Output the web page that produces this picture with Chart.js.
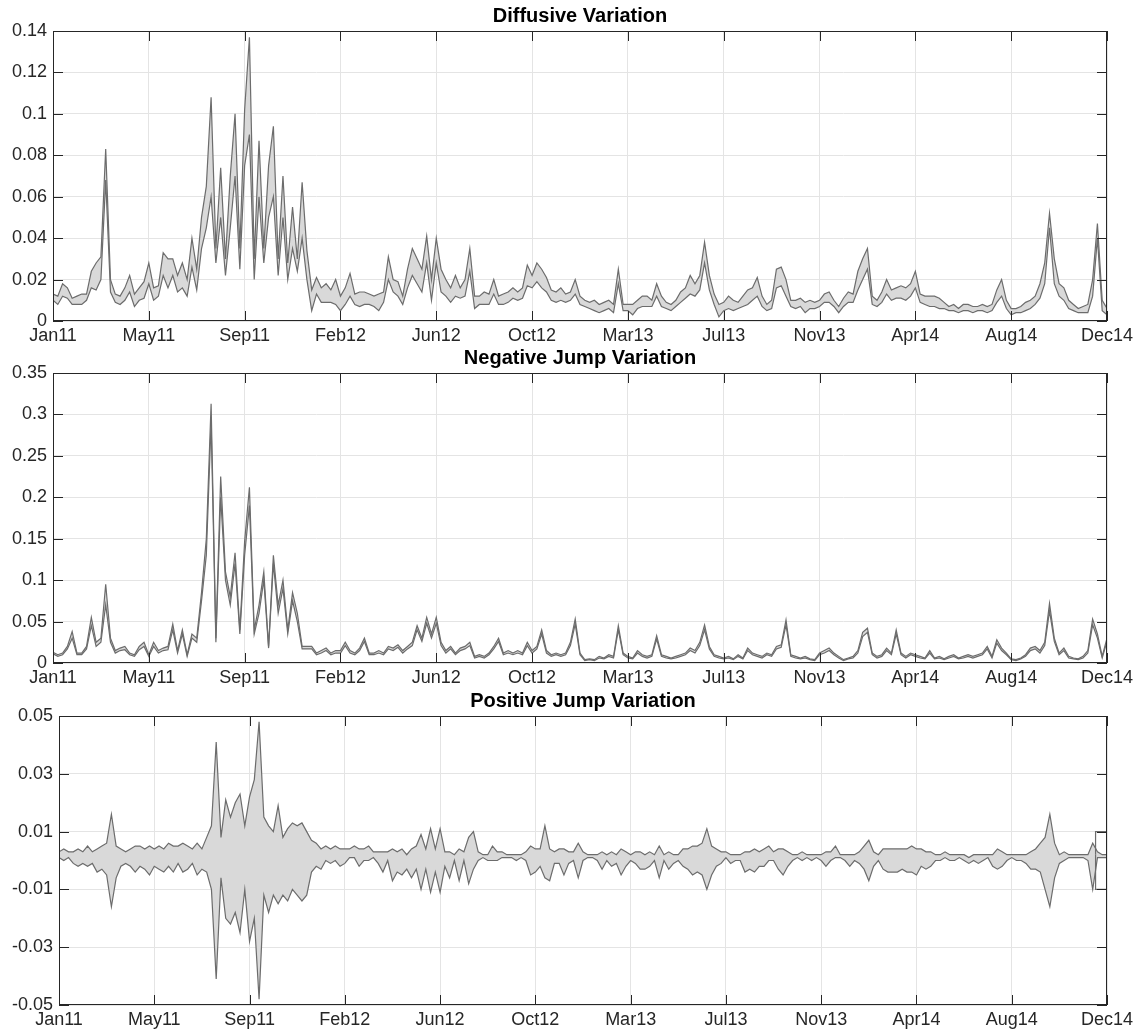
<!DOCTYPE html>
<html><head><meta charset="utf-8">
<script src="https://cdn.jsdelivr.net/npm/chart.js@4.4.1/dist/chart.umd.min.js"></script>
<style>
html,body{margin:0;padding:0;background:#fff;}
#wrap{position:relative;width:1138px;height:1032px;overflow:hidden;}
.pn{position:absolute;left:0;width:1138px;}
canvas{display:block;}
</style></head><body>
<div id="wrap">
<div class="pn" style="top:0;height:345px"><canvas id="c1" width="1138" height="345"></canvas></div>
<div class="pn" style="top:345px;height:345px"><canvas id="c2" width="1138" height="345"></canvas></div>
<div class="pn" style="top:690px;height:342px"><canvas id="c3" width="1138" height="342"></canvas></div>
</div>
<script>
// ---------- data ----------
const STEP = 5; // sample spacing on the trading-day index axis (0..1100)
const xTickPos = [0,100,200,300,400,500,600,700,800,900,1000,1100];
const xTickLabels = ['Jan11','May11','Sep11','Feb12','Jun12','Oct12','Mar13','Jul13','Nov13','Apr14','Aug14','Dec14'];

const titles = ['Diffusive Variation','Negative Jump Variation','Positive Jump Variation'];

const yTicks1 = [0,0.02,0.04,0.06,0.08,0.1,0.12,0.14];
const yLabels1 = ['0','0.02','0.04','0.06','0.08','0.1','0.12','0.14'];
const yTicks2 = [0,0.05,0.1,0.15,0.2,0.25,0.3,0.35];
const yLabels2 = ['0','0.05','0.1','0.15','0.2','0.25','0.3','0.35'];
const yTicks3 = [-0.05,-0.03,-0.01,0.01,0.03,0.05];
const yLabels3 = ['-0.05','-0.03','-0.01','0.01','0.03','0.05'];

// Diffusive variation: upper / lower envelope
const diffUpper = [
0.013,0.012,0.018,0.016,0.011,0.012,0.013,0.013,0.024,0.028,
0.031,0.083,0.02,0.013,0.012,0.016,0.022,0.013,0.016,0.019,
0.028,0.016,0.017,0.033,0.03,0.03,0.022,0.028,0.02,0.04,
0.025,0.05,0.065,0.108,0.035,0.074,0.03,0.07,0.1,0.035,
0.102,0.137,0.03,0.087,0.035,0.075,0.094,0.03,0.07,0.028,
0.055,0.03,0.067,0.034,0.015,0.021,0.016,0.018,0.015,0.02,
0.012,0.016,0.023,0.013,0.014,0.014,0.013,0.012,0.013,0.014,
0.031,0.02,0.019,0.012,0.025,0.035,0.03,0.025,0.041,0.02,
0.04,0.025,0.02,0.016,0.022,0.016,0.02,0.035,0.012,0.012,
0.014,0.013,0.02,0.012,0.013,0.014,0.016,0.014,0.016,0.027,
0.022,0.028,0.025,0.021,0.015,0.014,0.016,0.013,0.014,0.02,
0.012,0.01,0.009,0.01,0.008,0.009,0.01,0.008,0.025,0.008,
0.008,0.008,0.01,0.012,0.012,0.01,0.018,0.012,0.009,0.008,
0.01,0.014,0.016,0.022,0.018,0.022,0.038,0.022,0.013,0.008,
0.009,0.012,0.01,0.009,0.012,0.015,0.016,0.021,0.012,0.008,
0.01,0.025,0.026,0.02,0.01,0.01,0.011,0.009,0.01,0.009,
0.01,0.013,0.014,0.01,0.007,0.011,0.014,0.013,0.024,0.03,
0.035,0.012,0.01,0.014,0.02,0.015,0.016,0.017,0.016,0.018,
0.024,0.013,0.012,0.012,0.012,0.011,0.009,0.007,0.008,0.006,
0.008,0.008,0.007,0.007,0.008,0.007,0.008,0.015,0.02,0.01,
0.006,0.006,0.007,0.009,0.01,0.012,0.018,0.028,0.052,0.03,
0.018,0.016,0.01,0.008,0.006,0.007,0.008,0.02,0.047,0.01,
0.006];
const diffLower = [
0.01,0.008,0.012,0.011,0.008,0.008,0.008,0.01,0.016,0.015,
0.02,0.068,0.014,0.009,0.008,0.01,0.014,0.007,0.01,0.011,
0.018,0.01,0.012,0.022,0.016,0.022,0.014,0.016,0.012,0.026,
0.015,0.035,0.045,0.06,0.028,0.05,0.022,0.045,0.07,0.025,
0.075,0.09,0.02,0.06,0.028,0.05,0.06,0.022,0.05,0.02,
0.035,0.024,0.04,0.02,0.005,0.013,0.009,0.009,0.009,0.008,
0.005,0.008,0.012,0.008,0.007,0.008,0.008,0.007,0.005,0.009,
0.02,0.014,0.012,0.008,0.016,0.022,0.018,0.014,0.028,0.01,
0.028,0.014,0.012,0.009,0.012,0.011,0.012,0.024,0.006,0.008,
0.008,0.008,0.013,0.008,0.008,0.009,0.011,0.01,0.011,0.017,
0.016,0.019,0.016,0.014,0.01,0.009,0.01,0.009,0.01,0.013,
0.008,0.007,0.006,0.005,0.004,0.005,0.006,0.004,0.018,0.005,
0.005,0.003,0.006,0.007,0.007,0.007,0.012,0.007,0.006,0.005,
0.007,0.009,0.011,0.013,0.012,0.015,0.028,0.015,0.008,0.002,
0.005,0.006,0.005,0.006,0.007,0.008,0.01,0.012,0.007,0.005,
0.006,0.016,0.017,0.012,0.007,0.006,0.007,0.004,0.006,0.006,
0.007,0.009,0.009,0.007,0.004,0.007,0.009,0.009,0.015,0.02,
0.025,0.008,0.007,0.009,0.013,0.01,0.011,0.011,0.01,0.012,
0.016,0.009,0.008,0.007,0.007,0.006,0.006,0.005,0.005,0.004,
0.005,0.005,0.004,0.005,0.005,0.004,0.005,0.009,0.012,0.006,
0.003,0.004,0.004,0.005,0.006,0.008,0.011,0.018,0.045,0.018,
0.012,0.01,0.006,0.005,0.004,0.004,0.004,0.012,0.04,0.005,
0.003];

// Negative jump variation: upper / lower envelope
const negUpper = [
0.013,0.01,0.012,0.02,0.038,0.012,0.012,0.02,0.055,0.025,
0.03,0.095,0.03,0.015,0.018,0.02,0.012,0.01,0.02,0.025,
0.01,0.025,0.015,0.018,0.02,0.047,0.015,0.04,0.01,0.035,
0.03,0.085,0.15,0.313,0.03,0.225,0.11,0.08,0.133,0.04,
0.147,0.212,0.04,0.07,0.11,0.02,0.13,0.07,0.1,0.04,
0.085,0.06,0.02,0.02,0.02,0.012,0.015,0.018,0.012,0.015,
0.015,0.025,0.015,0.012,0.018,0.03,0.012,0.012,0.015,0.012,
0.02,0.018,0.022,0.015,0.02,0.025,0.045,0.03,0.055,0.035,
0.055,0.025,0.015,0.02,0.012,0.018,0.02,0.025,0.008,0.01,
0.008,0.012,0.02,0.03,0.012,0.015,0.012,0.015,0.012,0.025,
0.015,0.02,0.04,0.015,0.01,0.012,0.01,0.012,0.025,0.053,
0.012,0.004,0.005,0.004,0.008,0.006,0.01,0.008,0.045,0.012,
0.008,0.006,0.015,0.01,0.008,0.01,0.033,0.01,0.008,0.006,
0.008,0.01,0.012,0.018,0.015,0.025,0.046,0.02,0.01,0.008,
0.006,0.008,0.005,0.01,0.006,0.018,0.012,0.01,0.008,0.012,
0.01,0.02,0.022,0.052,0.01,0.008,0.006,0.008,0.005,0.004,
0.012,0.015,0.018,0.012,0.008,0.004,0.006,0.008,0.015,0.037,
0.042,0.012,0.008,0.01,0.018,0.012,0.04,0.012,0.008,0.012,
0.01,0.008,0.006,0.015,0.006,0.008,0.005,0.008,0.01,0.006,
0.008,0.01,0.008,0.01,0.012,0.02,0.008,0.028,0.018,0.012,
0.005,0.004,0.006,0.01,0.018,0.02,0.015,0.025,0.072,0.03,
0.012,0.018,0.008,0.006,0.005,0.008,0.015,0.053,0.035,0.008,
0.03];
const negLower = [
0.011,0.008,0.01,0.017,0.03,0.01,0.01,0.017,0.045,0.02,
0.025,0.07,0.025,0.012,0.015,0.016,0.01,0.008,0.016,0.02,
0.008,0.02,0.012,0.015,0.016,0.04,0.012,0.035,0.008,0.03,
0.025,0.075,0.13,0.29,0.025,0.2,0.1,0.07,0.12,0.035,
0.13,0.19,0.035,0.06,0.1,0.018,0.12,0.06,0.09,0.035,
0.075,0.05,0.017,0.017,0.017,0.01,0.012,0.015,0.01,0.012,
0.012,0.021,0.012,0.01,0.015,0.026,0.01,0.01,0.012,0.01,
0.017,0.015,0.019,0.012,0.017,0.021,0.04,0.026,0.048,0.03,
0.048,0.021,0.012,0.017,0.01,0.015,0.017,0.021,0.006,0.008,
0.006,0.01,0.017,0.026,0.01,0.012,0.01,0.012,0.01,0.021,
0.012,0.017,0.035,0.012,0.008,0.01,0.008,0.01,0.021,0.047,
0.01,0.003,0.004,0.003,0.006,0.005,0.008,0.006,0.04,0.01,
0.006,0.005,0.012,0.008,0.006,0.008,0.029,0.008,0.006,0.005,
0.006,0.008,0.01,0.015,0.012,0.021,0.04,0.017,0.008,0.006,
0.005,0.006,0.004,0.008,0.005,0.015,0.01,0.008,0.006,0.01,
0.008,0.017,0.019,0.046,0.008,0.006,0.005,0.006,0.004,0.003,
0.01,0.012,0.015,0.01,0.006,0.003,0.005,0.006,0.012,0.032,
0.037,0.01,0.006,0.008,0.015,0.01,0.035,0.01,0.006,0.01,
0.008,0.006,0.005,0.012,0.005,0.006,0.004,0.006,0.008,0.005,
0.006,0.008,0.006,0.008,0.01,0.017,0.006,0.024,0.015,0.01,
0.004,0.003,0.005,0.008,0.015,0.017,0.012,0.021,0.063,0.026,
0.01,0.015,0.006,0.005,0.004,0.006,0.012,0.046,0.03,0.006,
0.026];

// Positive jump variation: upper / lower envelope
const posUpper = [
0.003,0.004,0.003,0.003,0.004,0.003,0.005,0.003,0.004,0.005,
0.006,0.016,0.005,0.004,0.003,0.004,0.005,0.005,0.004,0.005,
0.004,0.005,0.004,0.006,0.005,0.005,0.006,0.005,0.004,0.006,
0.004,0.008,0.012,0.041,0.008,0.021,0.015,0.02,0.023,0.012,
0.022,0.028,0.048,0.015,0.012,0.01,0.019,0.008,0.011,0.013,
0.012,0.013,0.01,0.007,0.006,0.004,0.005,0.004,0.005,0.004,
0.004,0.004,0.005,0.004,0.004,0.005,0.003,0.003,0.003,0.003,
0.004,0.003,0.004,0.002,0.004,0.005,0.009,0.004,0.011,0.004,
0.011,0.003,0.003,0.002,0.004,0.003,0.008,0.01,0.003,0.002,
0.002,0.005,0.003,0.003,0.002,0.002,0.002,0.002,0.003,0.005,
0.004,0.004,0.012,0.004,0.003,0.004,0.004,0.003,0.003,0.006,
0.003,0.002,0.002,0.002,0.003,0.002,0.003,0.002,0.004,0.003,
0.002,0.003,0.003,0.002,0.003,0.002,0.005,0.002,0.003,0.002,
0.002,0.004,0.004,0.005,0.005,0.006,0.011,0.005,0.004,0.003,
0.003,0.002,0.002,0.002,0.003,0.003,0.004,0.003,0.004,0.005,
0.003,0.004,0.004,0.003,0.002,0.002,0.003,0.002,0.002,0.002,
0.002,0.003,0.003,0.005,0.002,0.002,0.002,0.002,0.003,0.005,
0.007,0.003,0.002,0.004,0.004,0.004,0.004,0.004,0.004,0.005,
0.004,0.004,0.003,0.003,0.002,0.002,0.003,0.002,0.002,0.002,
0.002,0.001,0.002,0.002,0.002,0.002,0.002,0.004,0.003,0.002,
0.002,0.002,0.002,0.002,0.003,0.004,0.006,0.008,0.016,0.006,
0.002,0.003,0.002,0.002,0.002,0.002,0.002,0.006,0.003,0.002,
0.002];
const posLower = [
0.001,0.0,0.001,-0.001,-0.002,-0.001,-0.002,-0.001,-0.004,-0.003,
-0.005,-0.016,-0.006,-0.002,-0.001,-0.002,-0.004,-0.002,-0.003,-0.005,
-0.002,-0.003,-0.004,-0.002,-0.004,-0.001,-0.004,-0.003,-0.001,-0.005,
-0.003,-0.004,-0.01,-0.041,-0.006,-0.02,-0.022,-0.018,-0.025,-0.01,
-0.028,-0.02,-0.048,-0.012,-0.018,-0.012,-0.015,-0.012,-0.014,-0.01,
-0.012,-0.014,-0.012,-0.004,-0.002,-0.003,0.0,-0.001,0.0,-0.002,
-0.001,0.001,0.001,-0.002,0.0,0.0,0.001,-0.001,-0.004,0.0,
-0.007,-0.004,-0.005,-0.003,-0.006,-0.003,-0.01,-0.003,-0.011,-0.004,
-0.011,-0.002,-0.006,0.0,-0.007,0.0,-0.008,-0.003,0.0,0.001,
0.0,0.0,0.0,0.001,0.001,0.001,0.0,0.001,0.0,-0.005,
-0.004,-0.002,-0.006,-0.007,-0.001,-0.001,-0.005,-0.001,0.0,-0.006,
0.0,0.001,0.001,0.0,-0.003,0.0,-0.002,-0.001,-0.005,-0.002,
0.0,-0.001,-0.003,-0.003,-0.002,0.0,-0.006,0.0,-0.003,-0.001,
0.0,-0.002,-0.003,-0.005,-0.004,-0.005,-0.01,-0.005,-0.002,-0.001,
0.001,-0.001,0.0,0.0,-0.004,-0.003,-0.004,-0.002,-0.002,0.0,
0.0,-0.003,-0.005,-0.002,0.0,0.001,0.0,0.001,0.0,0.001,
0.0,-0.002,0.0,0.001,0.001,0.0,-0.002,0.0,-0.001,-0.003,
-0.007,-0.002,0.0,-0.003,-0.004,-0.004,-0.004,-0.003,-0.004,-0.004,
-0.005,-0.002,-0.003,-0.002,0.0,0.0,0.001,0.0,0.0,0.001,
0.0,-0.001,0.0,-0.001,0.0,0.001,-0.002,-0.003,-0.002,0.0,
0.001,0.0,0.0,-0.001,-0.003,-0.003,-0.004,-0.01,-0.016,-0.006,
-0.001,0.0,0.001,0.001,0.001,0.001,0.0,-0.01,0.001,0.001,
0.001];
// end-of-sample step in the positive-jump envelope
const posEdgeX = [1088,1088,1100];
const posEdgeUpper = [0.002,0.01,0.01];
const posEdgeLower = [0.002,-0.01,-0.01];

// ---------- styling ----------
const FONT = '"Liberation Sans", Arial, Helvetica, sans-serif';
const TXT = '#262626';
const LINE = '#6c6c6c';
const FILL = '#d9d9d9';
const GRID = '#e4e4e4';

const framePlugin = {
  id: 'frame',
  afterDraw(chart, args, opts) {
    const {ctx, chartArea: a, scales: {x, y}} = chart;
    ctx.save();
    ctx.strokeStyle = TXT;
    ctx.lineWidth = 1;
    ctx.strokeRect(Math.round(a.left) + 0.5, Math.round(a.top) + 0.5,
                   Math.round(a.right - a.left) - 1, Math.round(a.bottom - a.top) - 1);
    const L = 10;
    ctx.beginPath();
    x.ticks.forEach(t => {
      const px = Math.round(x.getPixelForValue(t.value)) + 0.5;
      ctx.moveTo(px, a.bottom); ctx.lineTo(px, a.bottom - L);
      ctx.moveTo(px, a.top); ctx.lineTo(px, a.top + L);
    });
    y.ticks.forEach(t => {
      const py = Math.round(y.getPixelForValue(t.value)) + 0.5;
      ctx.moveTo(a.left, py); ctx.lineTo(a.left + L, py);
      ctx.moveTo(a.right, py); ctx.lineTo(a.right - L, py);
    });
    ctx.stroke();
    ctx.fillStyle = '#000';
    ctx.font = 'bold 20px ' + FONT;
    ctx.textAlign = 'center';
    ctx.textBaseline = 'alphabetic';
    ctx.fillText(opts.text, (a.left + a.right) / 2, a.top - 9);
    ctx.restore();
  }
};

function series(arr) { return arr.map((v, i) => ({x: i * STEP, y: v})); }
function pairs(xs, ys) { return ys.map((v, i) => ({x: xs[i], y: v})); }

function makePanel(id, title, upper, lower, yMin, yMax, yTicks, yLabels, axisW, padTop, padBottom, extra) {
  const datasets = [
    {data: series(upper), borderColor: LINE, borderWidth: 1.2, backgroundColor: FILL,
     fill: '+1', pointRadius: 0, tension: 0},
    {data: series(lower), borderColor: LINE, borderWidth: 1.2, backgroundColor: FILL,
     fill: false, pointRadius: 0, tension: 0}
  ].concat(extra || []);
  new Chart(document.getElementById(id), {
    type: 'line',
    data: {datasets},
    options: {
      responsive: false,
      animation: false,
      events: [],
      layout: {padding: {left: 0, right: 31, top: padTop, bottom: padBottom}},
      plugins: {
        legend: {display: false},
        tooltip: {enabled: false},
        title: {display: false},
        filler: {drawTime: 'beforeDatasetsDraw'},
        frame: {text: title}
      },
      scales: {
        x: {
          type: 'linear', min: 0, max: 1100,
          afterBuildTicks: s => { s.ticks = xTickPos.map(v => ({value: v})); },
          afterFit: s => { s.height = 24; },
          ticks: {callback: (v, i) => xTickLabels[i], font: {family: FONT, size: 18},
                  color: TXT, padding: 4, maxRotation: 0, autoSkip: false},
          grid: {color: GRID, lineWidth: 1, drawTicks: false},
          border: {display: false}
        },
        y: {
          type: 'linear', min: yMin, max: yMax,
          afterBuildTicks: s => { s.ticks = yTicks.map(v => ({value: v})); },
          afterFit: s => { s.width = axisW; },
          ticks: {callback: (v, i) => yLabels[i], font: {family: FONT, size: 18},
                  color: TXT, padding: 6, autoSkip: false},
          grid: {color: GRID, lineWidth: 1, drawTicks: false},
          border: {display: false}
        }
      }
    },
    plugins: [framePlugin]
  });
}

makePanel('c1', titles[0], diffUpper, diffLower, 0, 0.14, yTicks1, yLabels1, 53, 31, 0);
makePanel('c2', titles[1], negUpper, negLower, 0, 0.35, yTicks2, yLabels2, 53, 28, 3);
makePanel('c3', titles[2], posUpper, posLower, -0.05, 0.05, yTicks3, yLabels3, 59, 26, 3, [
  {data: pairs(posEdgeX, posEdgeUpper), borderColor: LINE, borderWidth: 1.2, fill: false, pointRadius: 0, tension: 0},
  {data: pairs(posEdgeX, posEdgeLower), borderColor: LINE, borderWidth: 1.2, fill: false, pointRadius: 0, tension: 0}
]);
</script>
</body></html>
